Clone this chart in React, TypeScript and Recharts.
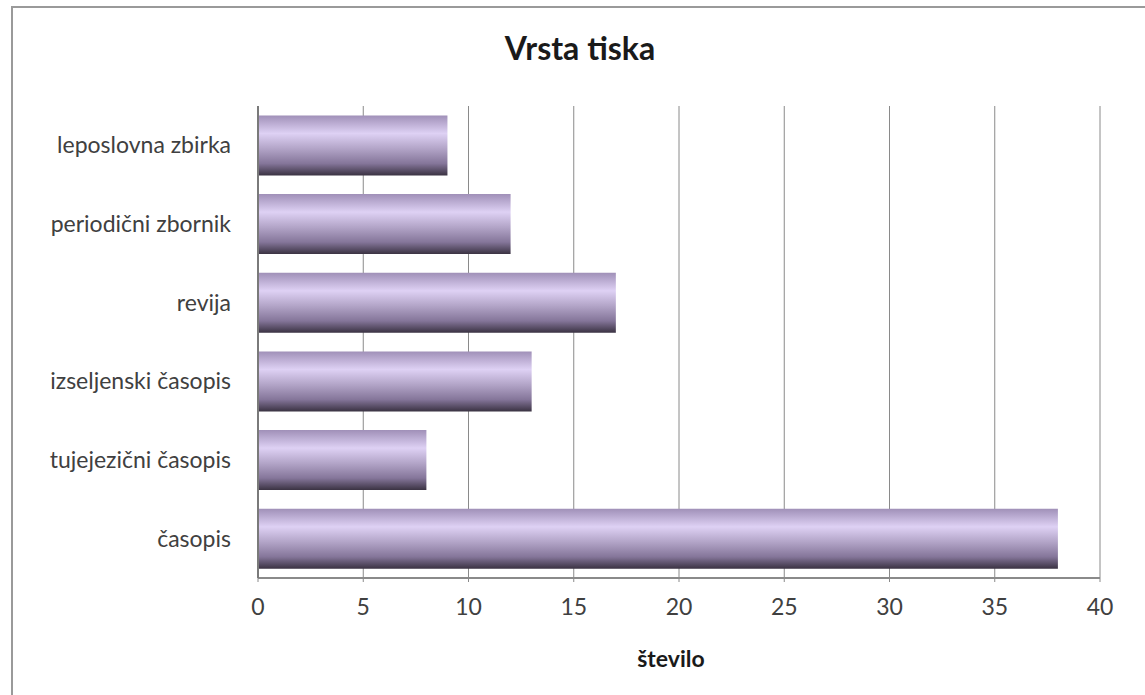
import React from 'react';
import { BarChart, Bar, XAxis, YAxis, CartesianGrid, Label } from 'recharts';

// Publication types (top to bottom) and their counts
const categories = [
  'leposlovna zbirka',
  'periodični zbornik',
  'revija',
  'izseljenski časopis',
  'tujejezični časopis',
  'časopis',
];
const counts = [9, 12, 17, 13, 8, 38];
const xTicks = [0, 5, 10, 15, 20, 25, 30, 35, 40];

const data = categories.map((name, i) => ({ name, value: counts[i] }));

const FONT = 'Lato, "Open Sans", sans-serif';

export default function App() {
  return (
    <div style={{ position: 'absolute', left: 0, top: 0, width: 1145, height: 695, overflow: 'hidden', background: '#fff' }}>
      <div
        style={{
          position: 'absolute',
          left: 11,
          top: 6,
          width: 1160,
          height: 720,
          border: '2px solid #9a9a9a',
          boxSizing: 'border-box',
        }}
      />
      <div
        style={{
          position: 'absolute',
          left: 0,
          width: 1160,
          top: 28,
          textAlign: 'center',
          fontFamily: FONT,
          fontWeight: 700,
          fontSize: 32,
          lineHeight: 'normal',
          color: '#1a1a1a',
        }}
      >
        Vrsta tiska
      </div>
      <div style={{ position: 'absolute', left: 0, top: 0 }}>
        <BarChart
          width={1145}
          height={695}
          data={data}
          layout="vertical"
          margin={{ top: 106, right: 45, bottom: 0, left: 0 }}
          barCategoryGap="12%"
        >
          <defs>
            <linearGradient id="barFill" x1="0" y1="0" x2="0" y2="1">
              <stop offset="0%" stopColor="#a090b8" />
              <stop offset="30%" stopColor="#ded1f4" />
              <stop offset="55%" stopColor="#b3a5c8" />
              <stop offset="80%" stopColor="#85769a" />
              <stop offset="100%" stopColor="#3a3242" />
            </linearGradient>
          </defs>
          <CartesianGrid horizontal={false} vertical stroke="#8a8a8a" strokeWidth={1} />
          <XAxis
            type="number"
            domain={[0, 40]}
            ticks={xTicks}
            height={117}
            axisLine={{ stroke: '#8a8a8a', strokeWidth: 2 }}
            tickLine={{ stroke: '#8a8a8a' }}
            tickSize={4}
            tickMargin={17}
            tick={{ fontFamily: FONT, fontSize: 23, fill: '#404040' }}
          >
            <Label
              value="število"
              position="insideBottom"
              offset={28}
              dx={-8}
              style={{ fontFamily: FONT, fontWeight: 700, fontSize: 23, fill: '#1a1a1a' }}
            />
          </XAxis>
          <YAxis
            type="category"
            dataKey="name"
            width={258}
            axisLine={{ stroke: '#7a7a7a', strokeWidth: 2 }}
            tickLine={false}
            tickSize={0}
            tickMargin={27}
            tick={{ fontFamily: FONT, fontSize: 23, fill: '#404040' }}
          />
          <Bar dataKey="value" fill="url(#barFill)" isAnimationActive={false} />
        </BarChart>
      </div>
    </div>
  );
}
